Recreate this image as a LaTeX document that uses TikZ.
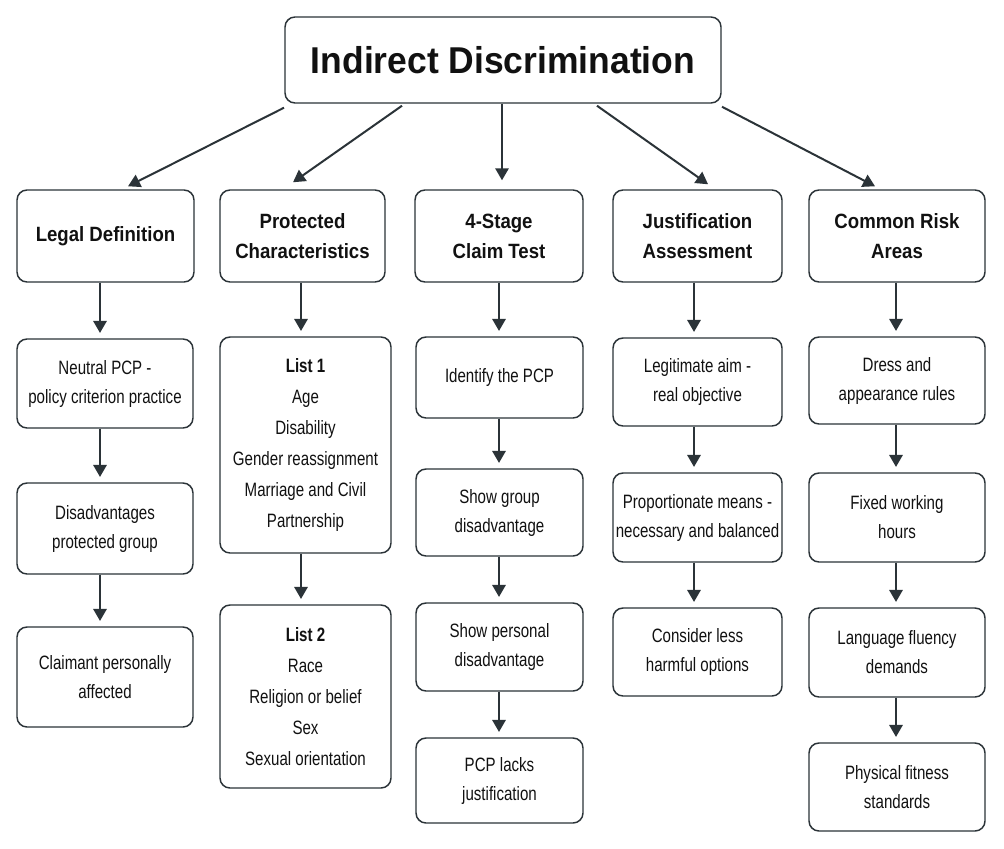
\documentclass[tikz,border=0pt]{standalone}
\usepackage{fontspec}
\setmainfont{Liberation Sans}
\newfontfamily\bodyf[FakeStretch=0.78]{Liberation Sans}
\newfontfamily\headf[FakeStretch=0.9]{Liberation Sans}
\newfontfamily\titlef[FakeStretch=0.95]{Liberation Sans}
\usetikzlibrary{arrows.meta}
\definecolor{ink}{HTML}{2B3338}
\definecolor{txt}{HTML}{111111}
\begin{document}
\begin{tikzpicture}[x=0.75pt,y=-0.75pt,
  box/.style={draw=ink, line width=1.1pt, rounded corners=7.5pt, fill=white, align=center, text=txt, inner sep=2pt},
  body/.style={box, font=\bodyf\fontsize{14.5pt}{21.75pt}\selectfont},
  listbox/.style={box, font=\bodyf\fontsize{14.5pt}{23.25pt}\selectfont},
  head/.style={box, font=\headf\bfseries\fontsize{15.5pt}{22.5pt}\selectfont},
  ttl/.style={box, font=\titlef\bfseries\fontsize{28pt}{32pt}\selectfont},
  arr/.style={draw=ink, line width=1.5pt, -{Triangle[length=9pt,width=10pt]}},
  varr/.style={arr, shorten >=4pt}
]
\useasboundingbox (0,0) rectangle (1004,849);
\fill[white] (0,0) rectangle (1004,849);

% title
\node[ttl, minimum width=327pt, minimum height=64.5pt] (title) at (503,60) {Indirect Discrimination};

% level 1
\node[head, minimum width=132.75pt, minimum height=69pt] (ld) at (105.5,236) {Legal Definition};
\node[head, minimum width=123.75pt, minimum height=69pt] (pc) at (302.5,236) {Protected\\Characteristics};
\node[head, minimum width=126pt, minimum height=69pt] (ct) at (499,236) {4-Stage\\Claim Test};
\node[head, minimum width=126.75pt, minimum height=69pt] (ja) at (697.5,236) {Justification\\Assessment};
\node[head, minimum width=132pt, minimum height=69pt] (cr) at (897,236) {Common Risk\\Areas};

% column 1
\node[body, minimum width=132pt, minimum height=66.75pt] (n1) at (105,383.5) {Neutral PCP -\\policy criterion practice};
\node[body, minimum width=132pt, minimum height=68.25pt] (n2) at (105,528.5) {Disadvantages\\protected group};
\node[body, minimum width=132pt, minimum height=75pt] (n3) at (105,677) {Claimant personally\\affected};

% column 2
\node[listbox, minimum width=128.25pt, minimum height=162pt] (l1) at (305.5,445) {{\bfseries List 1}\\Age\\Disability\\Gender reassignment\\Marriage and Civil\\Partnership};
\node[listbox, minimum width=128.25pt, minimum height=137.25pt] (l2) at (305.5,696.5) {{\bfseries List 2}\\Race\\Religion or belief\\Sex\\Sexual orientation};

% column 3
\node[body, minimum width=125.25pt, minimum height=60.75pt] (s1) at (499.5,377.5) {Identify the PCP};
\node[body, minimum width=125.25pt, minimum height=65.25pt] (s2) at (499.5,512.5) {Show group\\disadvantage};
\node[body, minimum width=125.25pt, minimum height=66pt] (s3) at (499.5,647) {Show personal\\disadvantage};
\node[body, minimum width=125.25pt, minimum height=63.75pt] (s4) at (499.5,780.5) {PCP lacks\\justification};

% column 4
\node[body, minimum width=126.75pt, minimum height=66pt] (j1) at (697.5,382) {Legitimate aim -\\real objective};
\node[body, minimum width=126.75pt, minimum height=66.75pt] (j2) at (697.5,517.5) {Proportionate means -\\necessary and balanced};
\node[body, minimum width=126.75pt, minimum height=66pt] (j3) at (697.5,652) {Consider less\\harmful options};

% column 5
\node[body, minimum width=132pt, minimum height=65.25pt] (r1) at (897,380.5) {Dress and\\appearance rules};
\node[body, minimum width=132pt, minimum height=66.75pt] (r2) at (897,517.5) {Fixed working\\hours};
\node[body, minimum width=132pt, minimum height=66.75pt] (r3) at (897,652.5) {Language fluency\\demands};
\node[body, minimum width=132pt, minimum height=66pt] (r4) at (897,787) {Physical fitness\\standards};

% arrow columns
\coordinate (c1) at (100,0);
\coordinate (c2) at (301,0);
\coordinate (c3) at (499,0);
\coordinate (c4) at (694,0);
\coordinate (c5) at (896,0);

% title arrows
\draw[arr] ([xshift=-164.25pt,yshift=-3pt]title.south) -- ([xshift=16.9pt,yshift=2.25pt]ld.north);
\draw[arr] ([xshift=-75.75pt,yshift=-1.5pt]title.south) -- ([xshift=-7.1pt,yshift=5.25pt]pc.north);
\draw[arr] ([xshift=-0.75pt]title.south) -- ([xshift=2.25pt,yshift=6.75pt]ct.north);
\draw[arr] ([xshift=70.5pt,yshift=-1.5pt]title.south) -- ([xshift=7.9pt,yshift=3.75pt]ja.north);
\draw[arr] ([xshift=164.25pt,yshift=-2.25pt]title.south) -- ([xshift=-16.5pt,yshift=2.25pt]cr.north);

% vertical arrows
\draw[varr] (ld.south -| c1) -- (n1.north -| c1);
\draw[varr] (n1.south -| c1) -- (n2.north -| c1);
\draw[varr] (n2.south -| c1) -- (n3.north -| c1);

\draw[varr] (pc.south -| c2) -- (l1.north -| c2);
\draw[varr] (l1.south -| c2) -- (l2.north -| c2);

\draw[varr] (ct.south -| c3) -- (s1.north -| c3);
\draw[varr] (s1.south -| c3) -- (s2.north -| c3);
\draw[varr] (s2.south -| c3) -- (s3.north -| c3);
\draw[varr] (s3.south -| c3) -- (s4.north -| c3);

\draw[varr] (ja.south -| c4) -- (j1.north -| c4);
\draw[varr] (j1.south -| c4) -- (j2.north -| c4);
\draw[varr] (j2.south -| c4) -- (j3.north -| c4);

\draw[varr] (cr.south -| c5) -- (r1.north -| c5);
\draw[varr] (r1.south -| c5) -- (r2.north -| c5);
\draw[varr] (r2.south -| c5) -- (r3.north -| c5);
\draw[varr] (r3.south -| c5) -- (r4.north -| c5);
\end{tikzpicture}
\end{document}
